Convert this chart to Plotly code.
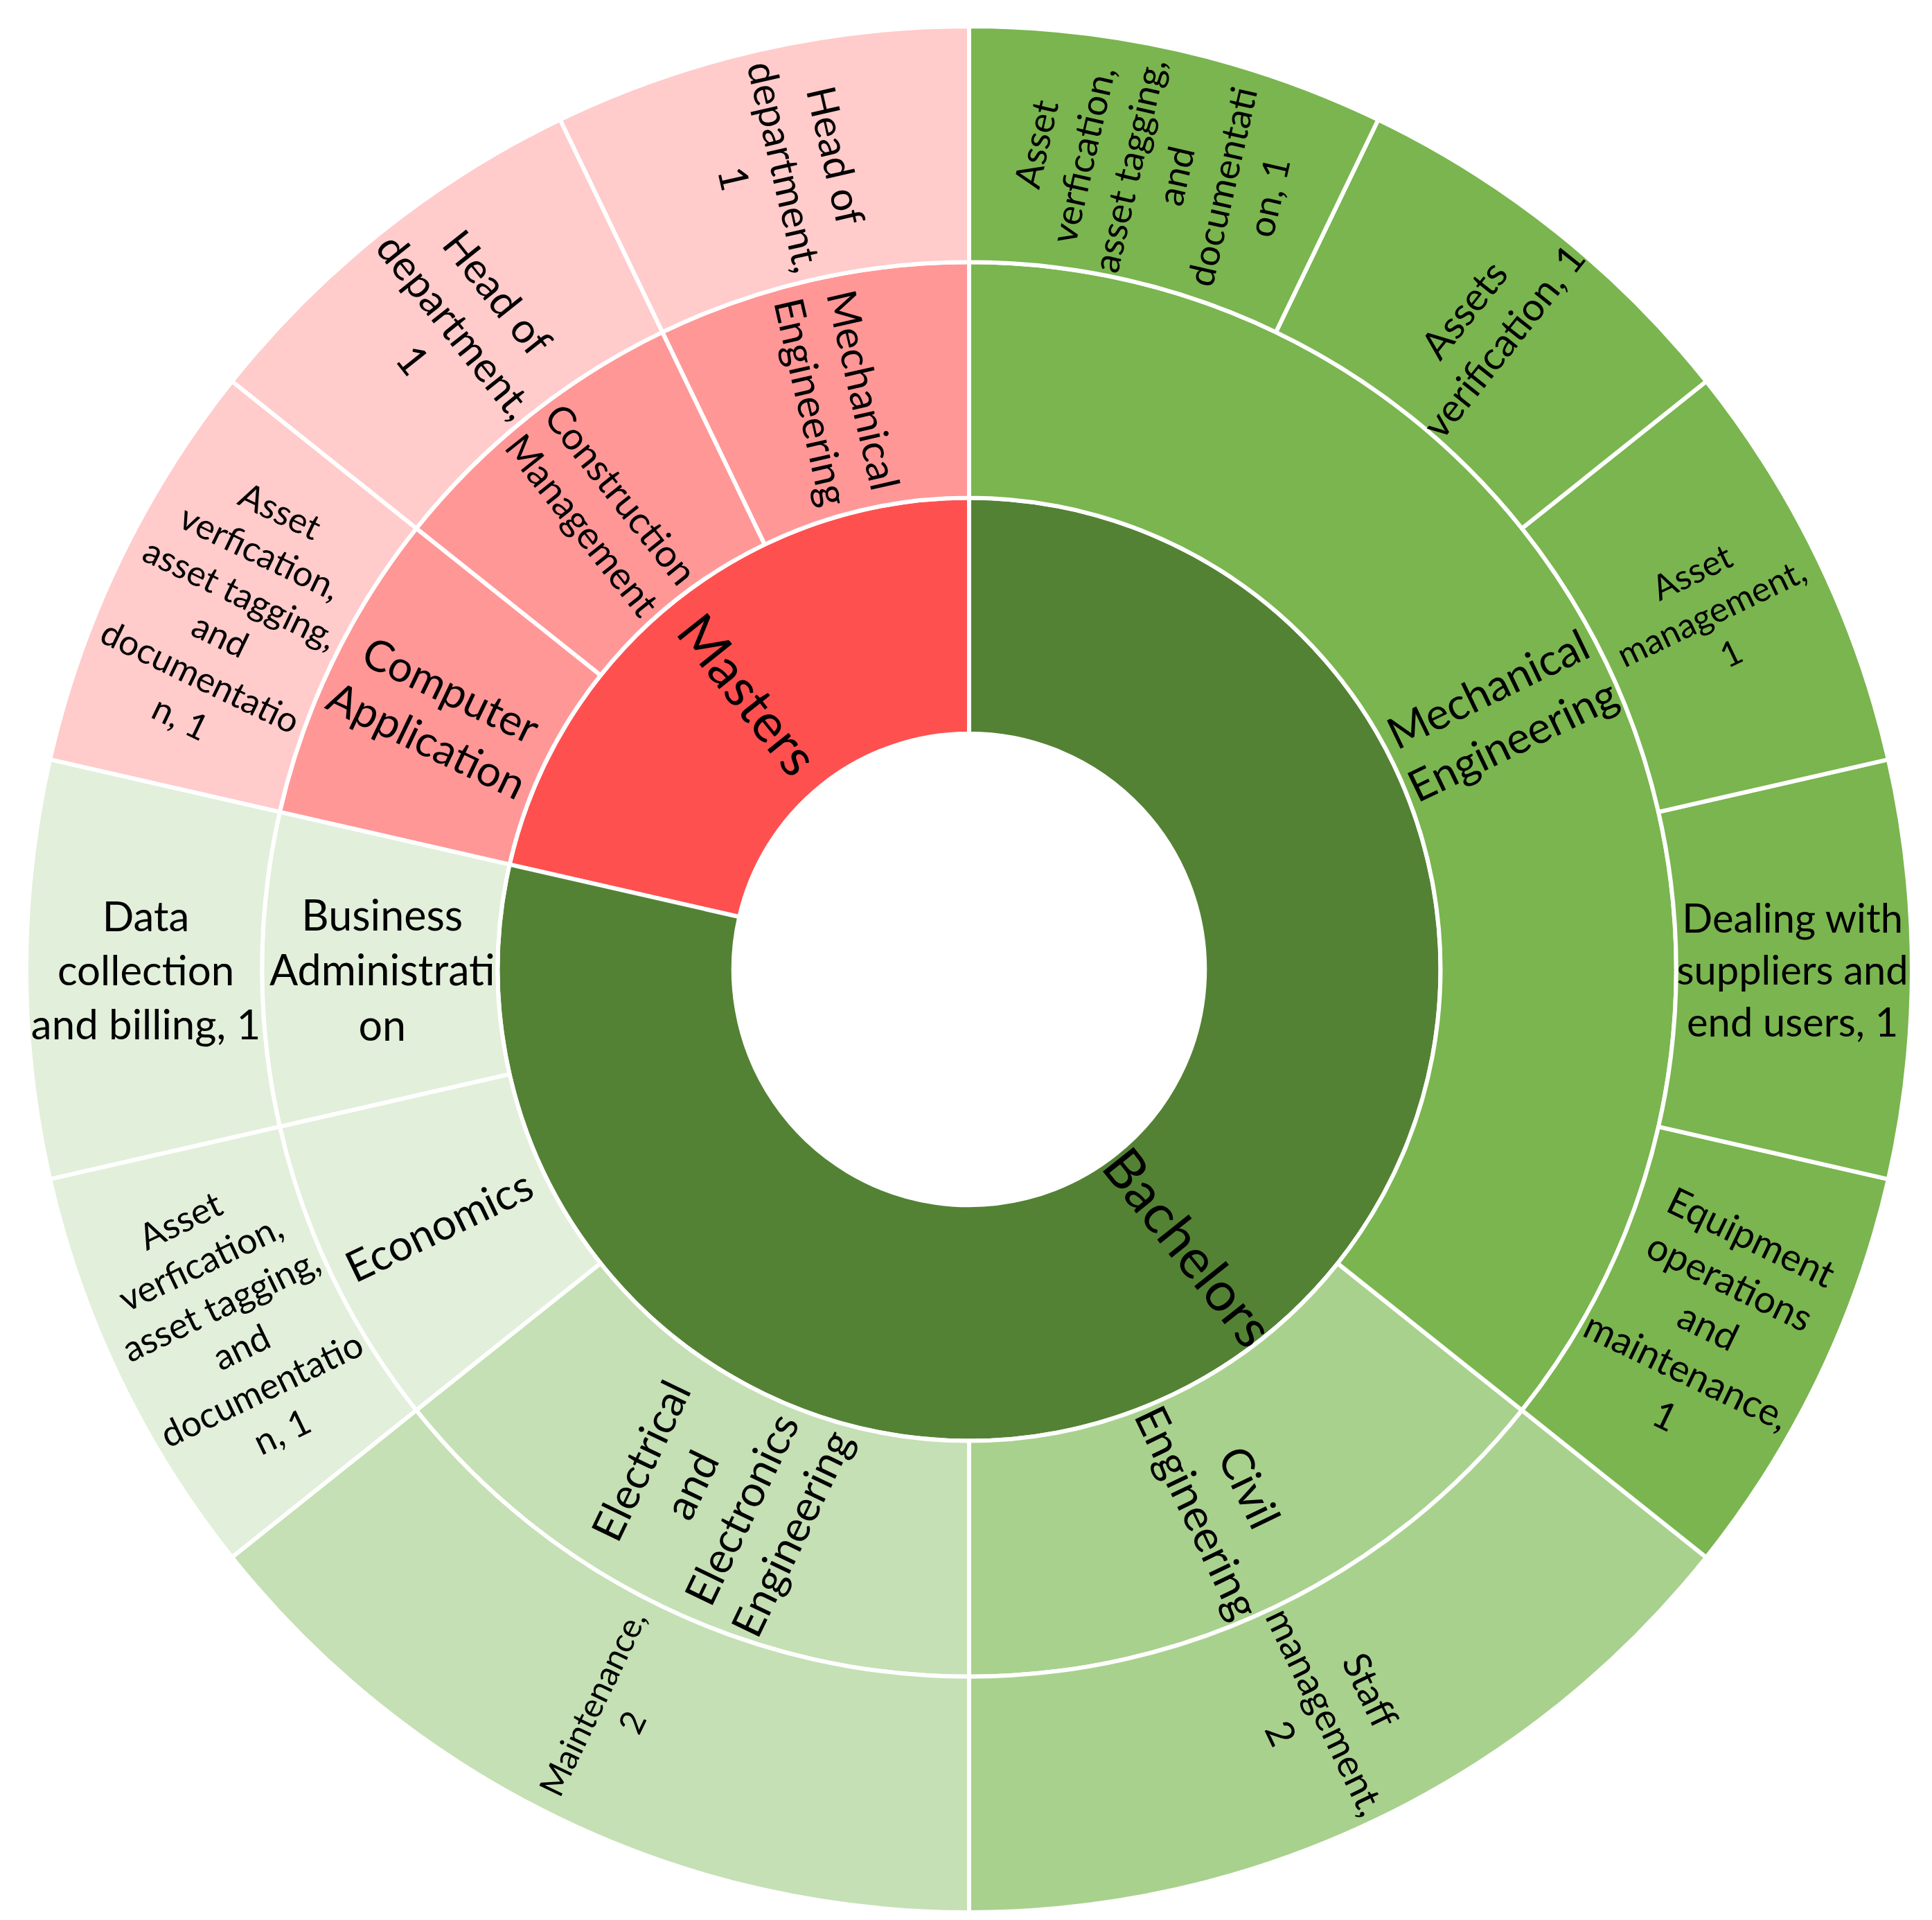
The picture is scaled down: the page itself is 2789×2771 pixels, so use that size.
import math
import plotly.graph_objects as go

# ---- data (listed counter-clockwise from 12 o'clock, as Plotly lays it out) ----
ids = [
    "root",
    "M", "B",
    "M/ME", "M/CM", "M/CA",
    "B/BA", "B/ECO", "B/EEE", "B/CE", "B/ME",
    "M/ME/1", "M/CM/1", "M/CA/1",
    "B/BA/1", "B/ECO/1", "B/EEE/1", "B/CE/1",
    "B/ME/5", "B/ME/4", "B/ME/3", "B/ME/2", "B/ME/1",
]
labels = [
    "",
    "Masters", "Bachelors",
    "Mechanical Engineering", "Construction Management", "Computer Application",
    "Business Administration", "Economics", "Electrical and Electronics Engineering",
    "Civil Engineering", "Mechanical Engineering",
    "Head of department", "Head of department",
    "Asset verfication, asset tagging, and documentation",
    "Data collection and billing",
    "Asset verfication, asset tagging, and documentation",
    "Maintenance", "Staff management",
    "Equipment operations and maintenance", "Dealing with suppliers and end users",
    "Asset management", "Assets verification",
    "Asset verfication, asset tagging, and documentation",
]
parents = [
    "",
    "root", "root",
    "M", "M", "M",
    "B", "B", "B", "B", "B",
    "M/ME", "M/CM", "M/CA",
    "B/BA", "B/ECO", "B/EEE", "B/CE",
    "B/ME", "B/ME", "B/ME", "B/ME", "B/ME",
]
values = [
    14,
    3, 11,
    1, 1, 1,
    1, 1, 2, 2, 5,
    1, 1, 1,
    1, 1, 2, 2,
    1, 1, 1, 1, 1,
]
display = [
    "",
    "Masters", "Bachelors",
    "Mechanical<br>Engineering", "Construction<br>Management", "Computer<br>Application",
    "Business<br>Administrati<br>on", "Economics",
    "Electrical<br>and<br>Electronics<br>Engineering",
    "Civil<br>Engineering", "Mechanical<br>Engineering",
    "Head of<br>department,<br>1", "Head of<br>department,<br>1",
    "Asset<br>verfication,<br>asset tagging,<br>and<br>documentatio<br>n, 1",
    "Data<br>collection<br>and billing, 1",
    "Asset<br>verfication,<br>asset tagging,<br>and<br>documentatio<br>n, 1",
    "Maintenance,<br>2", "Staff<br>management,<br>2",
    "Equipment<br>operations<br>and<br>maintenance,<br>1",
    "Dealing with<br>suppliers and<br>end users, 1",
    "Asset<br>management,<br>1",
    "Assets<br>verification, 1",
    "Asset<br>verfication,<br>asset tagging,<br>and<br>documentati<br>on, 1",
]
colors = [
    "#FFFFFF",
    "#FF5050", "#548235",
    "#FF9797", "#FF9797", "#FF9797",
    "#E2EFDA", "#E2EFDA", "#C5E0B4", "#A9D18E", "#7AB54F",
    "#FFCBCB", "#FFCBCB", "#FFCBCB",
    "#E2EFDA", "#E2EFDA", "#C5E0B4", "#A9D18E",
    "#7AB54F", "#7AB54F", "#7AB54F", "#7AB54F", "#7AB54F",
]
sizes = [
    10,
    77, 79,
    59, 55, 62,
    61, 62, 62, 64, 63,
    58, 60, 51,
    60, 52, 49, 55,
    55, 60, 50, 62, 53,
]

# labels that Plotly would lay horizontally; drawn as radial annotations instead
radial_annot = {"B", "B/ME"}

# ---- angular layout derived from the values (counter-clockwise from 12 o'clock) ----
total = values[0]
start = {"root": 0.0}
depth = {"root": 0}
cursor = {}
for i, nid in enumerate(ids):
    p = parents[i]
    if p == "":
        continue
    s = cursor.get(p, start[p])
    start[nid] = s
    cursor[p] = s + values[i] / total * 360.0
    depth[nid] = depth[p] + 1

text_shown = [("" if nid in radial_annot else t) for nid, t in zip(ids, display)]

fig = go.Figure(go.Sunburst(
    ids=ids, labels=labels, parents=parents, values=values,
    branchvalues="total", sort=False, rotation=90,
    text=text_shown, texttemplate="%{text}",
    insidetextorientation="radial",
    leaf=dict(opacity=1),
    marker=dict(colors=colors, line=dict(color="white", width=6)),
    textfont=dict(family="Lato", color="black", size=sizes),
    hoverinfo="label+value",
))

n_levels = max(depth.values()) + 1
R = 0.5  # outer radius in paper units (square domain)
for i, nid in enumerate(ids):
    if nid not in radial_annot:
        continue
    mid_ccw = start[nid] + values[i] / total * 360.0 / 2
    cw = (360.0 - mid_ccw) % 360.0
    r = (depth[nid] + 0.5) / n_levels * R
    a = math.radians(cw)
    fig.add_annotation(
        x=0.5 + r * math.sin(a), y=0.5 + r * math.cos(a),
        xref="paper", yref="paper", xanchor="center", yanchor="middle",
        showarrow=False,
        text=display[i], textangle=cw - 90,
        font=dict(family="Lato", color="black", size=sizes[i]),
    )

fig.update_layout(
    width=2789, height=2771,
    margin=dict(l=30, r=37, t=30, b=19),
    paper_bgcolor="white",
)
fig.write_html("out.html")
